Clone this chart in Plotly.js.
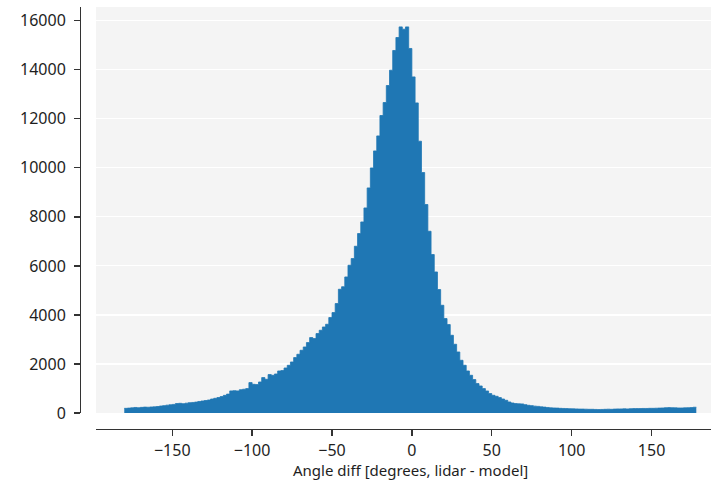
<!DOCTYPE html>
<html>
<head>
<meta charset="utf-8">
<script src="https://cdn.plot.ly/plotly-3.0.1.min.js"></script>
<style>html,body{margin:0;padding:0;background:#fff;}#chart{width:713px;height:483px;}</style>
</head>
<body>
<div id="chart"></div>
<script>
// Histogram of angle differences, bins of 2 degrees from -180 to 178
const binStart = -180;
const binWidth = 2;
const counts = [
  // -180 .. -106
  190, 200, 210, 225, 215, 230, 240, 235, 245, 250,
  265, 285, 300, 320, 335, 350, 385, 395, 380, 400,
  420, 430, 445, 470, 490, 510, 530, 570, 600, 630,
  670, 720, 770, 900, 910, 900, 950, 970,
  // -104 .. -46
  995, 1240, 1170, 1159, 1265, 1444, 1375, 1567, 1538, 1591,
  1714, 1730, 1836, 1946, 2081, 2260, 2395, 2558, 2693, 2872,
  3076, 3035, 3240, 3374, 3509, 3619, 3892, 4096, 4464, 5047,
  // -44 .. 16
  5150, 5549, 6026, 6299, 6801, 7319, 7793, 8364, 9180, 9996,
  10690, 11302, 12134, 12664, 13358, 13982, 14786, 15316, 15749, 15655,
  15749, 14868, 13709, 12648, 11085, 9808, 8503, 7413, 6463, 5753,
  5035,
  // 18 .. 62
  4394, 3852, 3607, 3170, 2803, 2489, 2150, 1946, 1714, 1538,
  1363, 1200, 1102, 995, 898, 792, 722, 681, 628, 571,
  518, 449, 408,
  // 64 .. 176
  384, 375, 370, 340, 314, 300, 280, 270, 250, 240,
  225, 210, 205, 200, 190, 185, 180, 175, 170, 165,
  160, 160, 155, 150, 150, 145, 140, 145, 150, 155,
  150, 160, 165, 165, 170, 165, 175, 180, 180, 180,
  185, 185, 190, 190, 195, 200, 205, 215, 220, 215,
  210, 205, 205, 210, 215, 220, 235
];
const xTickVals = [-150, -100, -50, 0, 50, 100, 150];
const xTitle = 'Angle diff [degrees, lidar - model]';

// step-filled histogram outline: left edge of every bin, plus the final right edge
const stepX = counts.map((_, i) => binStart + i * binWidth).concat([binStart + counts.length * binWidth]);
const stepY = counts.concat([counts[counts.length - 1]]);

const fontFam = '"Noto Sans", "Open Sans", sans-serif';
const textColor = '#1e1e1e';
const lineColor = '#333333';

const trace = {
  type: 'scatter',
  mode: 'lines',
  x: stepX,
  y: stepY,
  line: {shape: 'hv', color: '#1f77b4', width: 0.8},
  fill: 'tozeroy',
  fillcolor: '#1f77b4',
  hoverinfo: 'x+y'
};

const layout = {
  width: 713,
  height: 483,
  margin: {l: 80, r: 2, t: 7, b: 54, pad: 0},
  paper_bgcolor: '#ffffff',
  plot_bgcolor: '#f4f4f4',
  showlegend: false,
  font: {family: fontFam, size: 15, color: textColor},
  xaxis: {
    domain: [16 / 631, 1],
    range: [-197.7, 187.2],
    anchor: 'free',
    position: 0,
    showline: true,
    linecolor: lineColor,
    linewidth: 1.3,
    ticks: 'outside',
    ticklen: 6,
    tickwidth: 1.3,
    tickcolor: lineColor,
    tickmode: 'array',
    tickvals: xTickVals,
    showgrid: false,
    zeroline: false,
    ticklabelstandoff: 0,
    tickfont: {family: fontFam, size: 16, color: textColor}
  },
  yaxis: {
    domain: [16 / 422, 1],
    range: [0, 16560],
    anchor: 'free',
    position: 0,
    showline: true,
    linecolor: lineColor,
    linewidth: 1.3,
    ticks: 'outside',
    ticklen: 6,
    tickwidth: 1.3,
    tickcolor: lineColor,
    tick0: 0,
    dtick: 2000,
    tickformat: 'd',
    showgrid: true,
    gridcolor: '#ffffff',
    gridwidth: 1.2,
    zeroline: false,
    ticklabelstandoff: 5,
    tickfont: {family: fontFam, size: 16, color: textColor}
  },
  annotations: [{
    text: xTitle,
    xref: 'paper', yref: 'paper',
    x: (410 - 80) / 631, y: (429 - 470) / 422,
    xanchor: 'center', yanchor: 'middle',
    showarrow: false,
    font: {family: fontFam, size: 15, color: textColor}
  }]
};

Plotly.newPlot('chart', [trace], layout, {staticPlot: true, displayModeBar: false});
</script>
</body>
</html>
